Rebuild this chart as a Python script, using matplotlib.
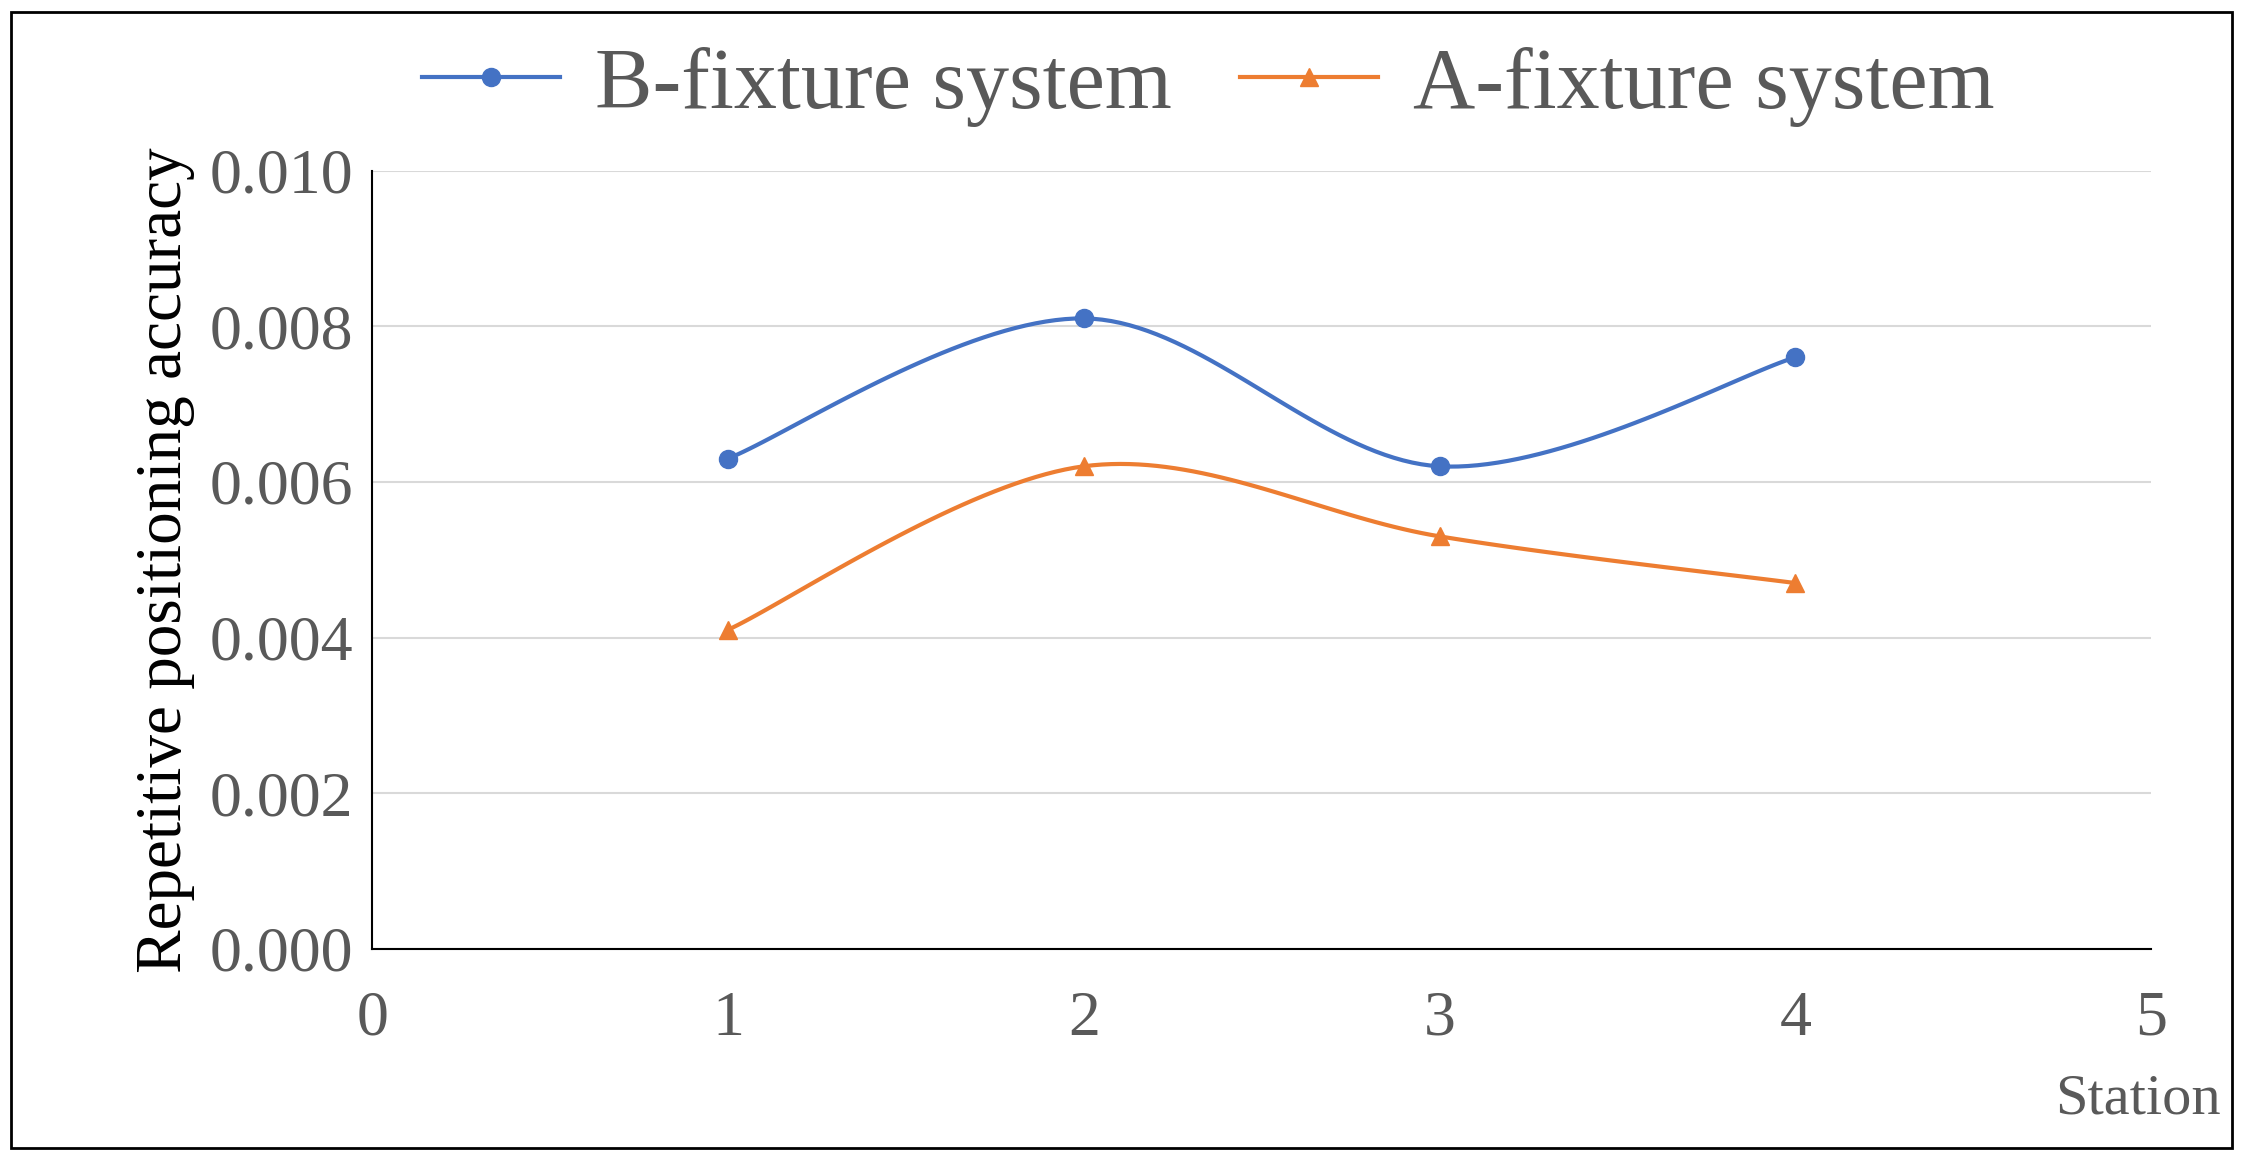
import numpy as np
import matplotlib.pyplot as plt
from matplotlib.patches import Rectangle

# === DATA ===
stations = [1, 2, 3, 4]
b_fixture = [0.0063, 0.0081, 0.0062, 0.0076]
a_fixture = [0.0041, 0.0062, 0.0053, 0.0047]

COLOR_B = "#4472C4"
COLOR_A = "#ED7D31"
TEXT = "#595959"
FONT = "Liberation Serif"


def smooth(xs, ys, n=40):
    # Catmull-Rom spline, like Excel's smoothed line
    x = np.array(xs, float)
    y = np.array(ys, float)
    px = np.concatenate([[x[0]], x, [x[-1]]])
    py = np.concatenate([[y[0]], y, [y[-1]]])
    ox, oy = [], []
    t = np.linspace(0, 1, n)
    for i in range(1, len(px) - 2):
        p0, p1, p2, p3 = [np.array([px[j], py[j]]) for j in (i - 1, i, i + 1, i + 2)]
        m1 = (p2 - p0) / 2
        m2 = (p3 - p1) / 2
        h00 = 2 * t**3 - 3 * t**2 + 1
        h10 = t**3 - 2 * t**2 + t
        h01 = -2 * t**3 + 3 * t**2
        h11 = t**3 - t**2
        pts = np.outer(h00, p1) + np.outer(h10, m1) + np.outer(h01, p2) + np.outer(h11, m2)
        ox.extend(pts[:, 0])
        oy.extend(pts[:, 1])
    return ox, oy


fig = plt.figure(figsize=(22.43, 11.6), dpi=100)
ax = fig.add_axes([0.166, 0.182, 0.793, 0.671])

for ys, color, marker, label in [(b_fixture, COLOR_B, "o", "B-fixture system"),
                                 (a_fixture, COLOR_A, "^", "A-fixture system")]:
    sx, sy = smooth(stations, ys)
    ax.plot(sx, sy, color=color, lw=3)
    ax.plot(stations, ys, ls="none", marker=marker, color=color, ms=13)
    ax.plot([], [], color=color, lw=3, marker=marker, ms=13, label=label)

ax.set_xlim(0, 5)
ax.set_ylim(0, 0.010)
ax.set_xticks(range(0, 6))
ax.set_yticks(np.arange(0, 0.0101, 0.002))
ax.set_yticklabels([f"{v:.3f}" for v in np.arange(0, 0.0101, 0.002)])
ax.grid(axis="y", color="#D9D9D9", lw=1.5)
ax.set_axisbelow(True)
for s in ["top", "right"]:
    ax.spines[s].set_visible(False)
ax.spines["left"].set_linewidth(1.5)
ax.spines["bottom"].set_linewidth(1.5)
ax.tick_params(length=0, labelsize=46, colors=TEXT, pad=14)
ax.tick_params(axis="x", pad=30)
for lab in ax.get_xticklabels() + ax.get_yticklabels():
    lab.set_family(FONT)

ax.set_ylabel("Repetitive positioning accuracy", fontsize=47, family=FONT, color="black", labelpad=10)
fig.text(0.99, 0.03, "Station", fontsize=42, family=FONT, color=TEXT, ha="right", va="bottom")

ax.legend(loc="lower center", bbox_to_anchor=(0.47, 0.99), ncol=2, frameon=False,
          prop={"family": FONT, "size": 62}, labelcolor=TEXT, handlelength=1.6,
          columnspacing=0.8, handletextpad=0.4, borderpad=0.1)

fig.add_artist(Rectangle((0.005, 0.01), 0.99, 0.98, transform=fig.transFigure,
                         fill=False, lw=2, color="black"))

fig.savefig("out.png", dpi=100)
